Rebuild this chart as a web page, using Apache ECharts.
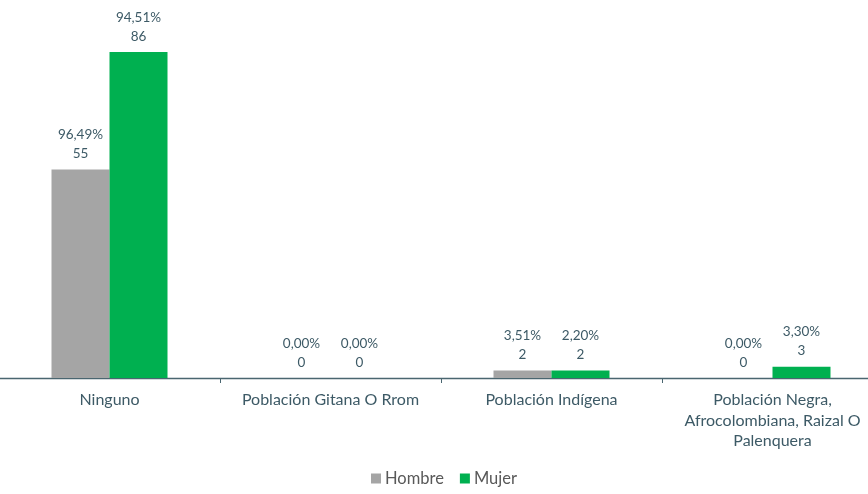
<!DOCTYPE html>
<html><head><meta charset="utf-8">
<script src="https://cdn.jsdelivr.net/npm/echarts@6/dist/echarts.min.js"></script>
<style>html,body{margin:0;padding:0;background:#fff}#c{width:868px;height:494px}</style>
</head><body><div id="c"></div>
<script>
const categories = ["Ninguno", "Población Gitana O Rrom", "Población Indígena", "Población Negra,\nAfrocolombiana, Raizal O\nPalenquera"];
const hombreValues = [55, 0, 2, 0];
const mujerValues = [86, 0, 2, 3];
const hombrePct = ["96,49%", "0,00%", "3,51%", "0,00%"];
const mujerPct = ["94,51%", "0,00%", "2,20%", "3,30%"];

const font = "Lato, 'Open Sans', sans-serif";
const labelColor = "#3d5a66";
function mkLabel(pcts) {
  return {
    show: true, position: 'top', distance: 6,
    color: labelColor, fontFamily: font, fontSize: 13.5, lineHeight: 19,
    formatter: p => pcts[p.dataIndex] + "\n" + p.value
  };
}
const chart = echarts.init(document.getElementById('c'));
chart.setOption({
  animation: false,
  grid: { left: -1, right: -15, top: -1, bottom: 116, containLabel: false, outerBoundsMode: 'none' },
  legend: {
    bottom: 2, left: 366, itemWidth: 10, itemHeight: 10, itemGap: 16,
    icon: 'rect',
    textStyle: { color: '#595959', fontFamily: font, fontSize: 16.5, padding: [0, 0, 0, -1] },
    data: ['Hombre', 'Mujer']
  },
  xAxis: {
    type: 'category', data: categories,
    axisLine: { lineStyle: { color: '#4a6670', width: 1.3 } },
    axisTick: { show: true, length: 5, lineStyle: { color: '#4a6670' } },
    axisLabel: { color: labelColor, fontFamily: font, fontSize: 16, lineHeight: 20.5, margin: 12, interval: 0 }
  },
  yAxis: { type: 'value', min: 0, max: 100, show: false, splitLine: { show: false } },
  series: [
    { name: 'Hombre', type: 'bar', data: hombreValues, barWidth: 58, barGap: '0%',
      itemStyle: { color: '#a5a5a5' }, label: mkLabel(hombrePct) },
    { name: 'Mujer', type: 'bar', data: mujerValues, barWidth: 58,
      itemStyle: { color: '#00b050' }, label: mkLabel(mujerPct) }
  ]
});
</script></body></html>
